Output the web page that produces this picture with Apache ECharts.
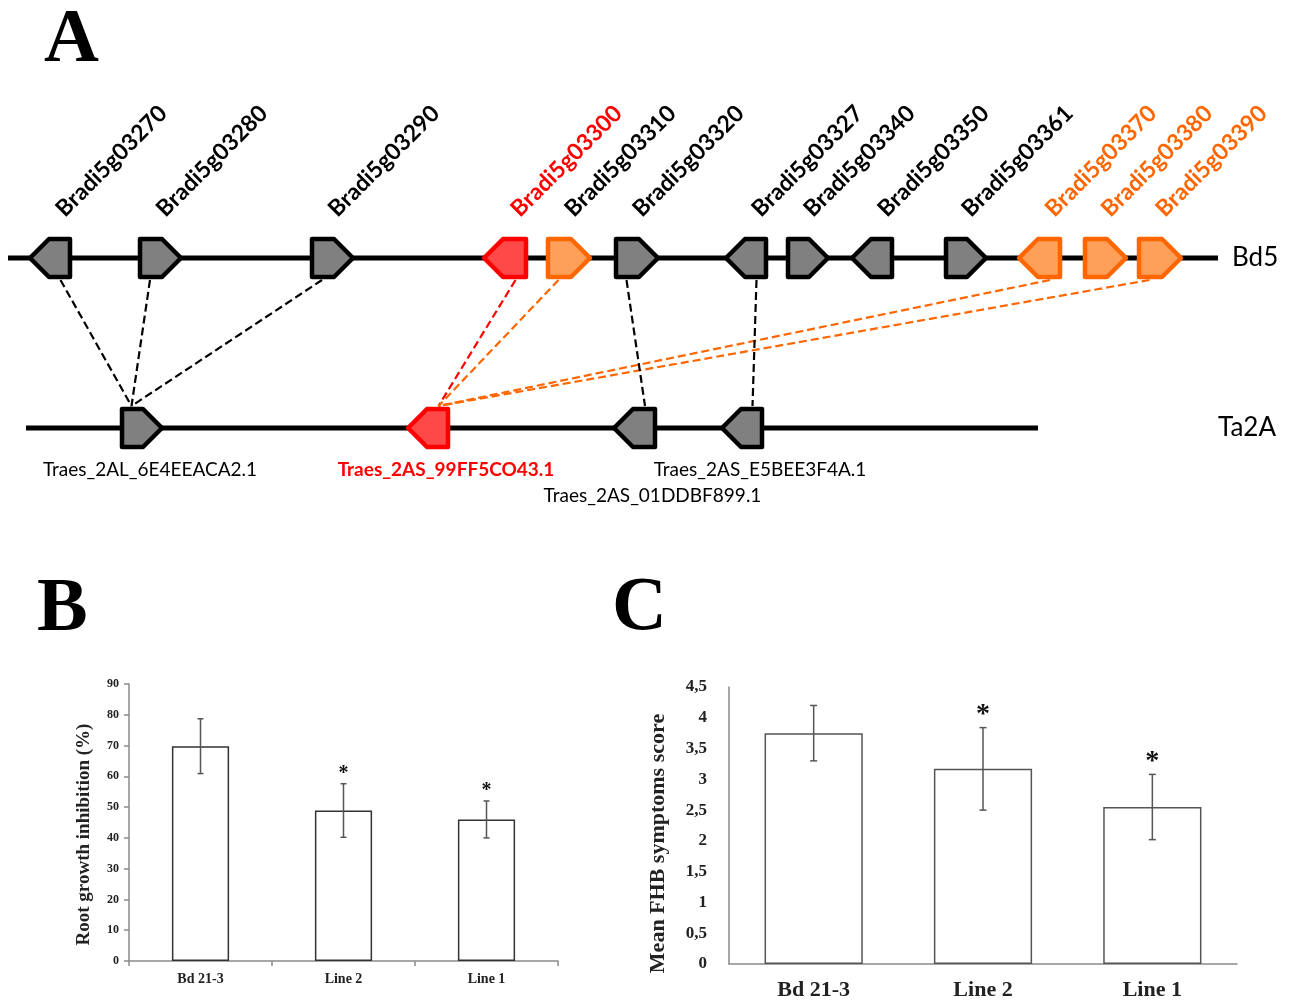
<!DOCTYPE html>
<html>
<head>
<meta charset="utf-8">
<title>Bd5 / Ta2A synteny, root growth and FHB scores</title>
<script src="https://cdn.jsdelivr.net/npm/echarts@6/dist/echarts.min.js"></script>
<style>
  html, body { margin: 0; padding: 0; background: #fff; }
  #chart { width: 1292px; height: 1003px; }
</style>
</head>
<body>
<div id="chart"></div>
<script>
// ---- panel A: gene models on the two chromosomes ----
var chromNames = ['Bd5', 'Ta2A'];
var chromStart = [8, 26];
var chromEnd = [1218, 1038];

var bdGeneNames = ['Bradi5g03270', 'Bradi5g03280', 'Bradi5g03290', 'Bradi5g03300', 'Bradi5g03310',
  'Bradi5g03320', 'Bradi5g03327', 'Bradi5g03340', 'Bradi5g03350', 'Bradi5g03361',
  'Bradi5g03370', 'Bradi5g03380', 'Bradi5g03390'];
var bdGeneStart = [28, 138, 310, 482, 546, 614, 724, 786, 850, 944, 1017, 1083, 1137];
var bdGeneEnd = [72, 183, 355, 528, 592, 660, 768, 830, 894, 988, 1062, 1128, 1183];
var bdGeneStrand = [-1, 1, 1, -1, 1, 1, -1, 1, -1, 1, -1, 1, 1];
var bdGeneGroup = ['other', 'other', 'other', 'target', 'family', 'other', 'other', 'other',
  'other', 'other', 'family', 'family', 'family'];
// colour class of the gene name (Bradi5g03310 is an orange gene with a black name)
var bdLabelGroup = ['other', 'other', 'other', 'target', 'other', 'other', 'other', 'other',
  'other', 'other', 'family', 'family', 'family'];

var taGeneNames = ['Traes_2AL_6E4EEACA2.1', 'Traes_2AS_99FF5CO43.1', 'Traes_2AS_01DDBF899.1', 'Traes_2AS_E5BEE3F4A.1'];
var taGeneStart = [120, 406, 612, 720];
var taGeneEnd = [164, 450, 657, 764];
var taGeneStrand = [1, -1, -1, -1];
var taGeneGroup = ['other', 'target', 'other', 'other'];
var taLabelRow = [0, 0, 1, 0];

// orthology links: Bd5 gene index -> Ta2A gene index
var linkFrom = [0, 1, 2, 3, 4, 10, 12, 5, 6];
var linkTo = [0, 0, 0, 1, 1, 1, 1, 2, 3];

// ---- panel B: root growth inhibition ----
var rootCats = ['Bd 21-3', 'Line 2', 'Line 1'];
var rootMean = [69.8, 48.9, 46.0];
var rootErr = [8.9, 8.7, 6.0];
var rootSig = [false, true, true];

// ---- panel C: FHB symptoms ----
var fhbCats = ['Bd 21-3', 'Line 2', 'Line 1'];
var fhbMean = [3.75, 3.17, 2.55];
var fhbErr = [0.45, 0.67, 0.53];
var fhbSig = [false, true, true];

var GENE_FILL = { other: '#808080', target: '#FF4848', family: '#FFA05A' };
var GENE_EDGE = { other: '#000000', target: '#FF0000', family: '#FF6600' };
var SANS = 'Lato, "Open Sans", sans-serif';
var SERIF = '"Liberation Serif", "Times New Roman", serif';
var HALF_H = 19;

var tracks = [
  { names: bdGeneNames, start: bdGeneStart, end: bdGeneEnd, strand: bdGeneStrand, group: bdGeneGroup, labelGroup: bdLabelGroup },
  { names: taGeneNames, start: taGeneStart, end: taGeneEnd, strand: taGeneStrand, group: taGeneGroup, labelGroup: taGeneGroup }
];

function genePoints(x0, x1, y, strand) {
  var h = HALF_H, p = HALF_H;
  if (strand > 0) {
    return [[x0, y - h], [x1 - p, y - h], [x1, y], [x1 - p, y + h], [x0, y + h]];
  }
  return [[x0 + p, y - h], [x1, y - h], [x1, y + h], [x0 + p, y + h], [x0, y]];
}

// x of the box part of a gene, where links attach
function attachX(t, i, api) {
  var a = api.coord([t.start[i], 0])[0];
  var b = api.coord([t.end[i], 0])[0];
  var box = (b - a) - HALF_H - 2;
  return t.strand[i] > 0 ? a + box / 2 : b - box / 2;
}

function renderChrom(params, api) {
  var a = api.coord([api.value(0), api.value(2)]);
  var b = api.coord([api.value(1), api.value(2)]);
  var nameX = params.dataIndex === 0 ? 1232 : 1218;
  return {
    type: 'group',
    children: [
      { type: 'line', shape: { x1: a[0], y1: a[1], x2: b[0], y2: b[1] }, style: { stroke: '#000', lineWidth: 5 } },
      { type: 'text', x: nameX, y: a[1], style: { x: 0, y: 0, text: chromNames[params.dataIndex], fill: '#000',
        font: '26px ' + SANS, textAlign: 'left', textVerticalAlign: 'middle', align: 'left', verticalAlign: 'middle' } }
    ]
  };
}

function renderGene(params, api) {
  var trackIdx = api.value(2);
  var t = tracks[trackIdx];
  var i = api.value(3);
  var a = api.coord([api.value(0), trackIdx]);
  var b = api.coord([api.value(1), trackIdx]);
  var g = t.group[i];
  var lg = t.labelGroup[i];
  var cx = (a[0] + b[0]) / 2;
  var shift = 13 - 5 * t.strand[i];
  var children = [{
    type: 'polygon',
    shape: { points: genePoints(a[0] + 2, b[0] - 2, a[1], t.strand[i]) },
    style: { fill: GENE_FILL[g], stroke: GENE_EDGE[g], lineWidth: 4.5, lineJoin: 'round' }
  }];
  if (trackIdx === 0) {
    children.push({
      type: 'text', x: cx + shift, y: a[1] - 37, rotation: Math.PI / 4,
      style: { x: 0, y: 0, text: t.names[i], fill: GENE_EDGE[lg],
        font: 'bold 23px ' + SANS, textAlign: 'left', textVerticalAlign: 'bottom', align: 'left', verticalAlign: 'bottom' }
    });
  } else {
    children.push({
      type: 'text', x: cx + shift, y: a[1] + 42 + 26 * taLabelRow[i],
      style: { x: 0, y: 0, text: t.names[i], fill: GENE_EDGE[lg],
        font: (lg === 'other' ? '' : 'bold ') + '19px ' + SANS, textAlign: 'center', textVerticalAlign: 'middle',
        align: 'center', verticalAlign: 'middle' }
    });
  }
  return { type: 'group', children: children };
}

function renderLink(params, api) {
  var i = api.value(0), j = api.value(1);
  var x1 = attachX(tracks[0], i, api), x2 = attachX(tracks[1], j, api);
  var y1 = api.coord([0, 0])[1] + HALF_H + 3;
  var y2 = api.coord([0, 1])[1] - HALF_H - 3;
  var g = bdGeneGroup[i];
  return {
    type: 'line',
    shape: { x1: x1, y1: y1, x2: x2, y2: y2 },
    style: { stroke: GENE_EDGE[g], lineWidth: 2.2, lineDash: [8, 4] }
  };
}

function errorBars(sig, cap, starGap, starFont, color) {
  return function (params, api) {
    var i = params.dataIndex;
    var x = api.value(0), m = api.value(1), e = api.value(2);
    var top = api.coord([x, m + e]);
    var bot = api.coord([x, m - e]);
    var st = { stroke: color, lineWidth: 1.5 };
    var children = [
      { type: 'line', shape: { x1: top[0], y1: top[1], x2: bot[0], y2: bot[1] }, style: st },
      { type: 'line', shape: { x1: top[0] - cap, y1: top[1], x2: top[0] + cap, y2: top[1] }, style: st },
      { type: 'line', shape: { x1: bot[0] - cap, y1: bot[1], x2: bot[0] + cap, y2: bot[1] }, style: st }
    ];
    if (sig[i]) {
      children.push({ type: 'text', x: top[0], y: top[1] - starGap,
        style: { x: 0, y: 0, text: '*', fill: '#111', font: starFont, textAlign: 'center', textVerticalAlign: 'middle',
          align: 'center', verticalAlign: 'middle' } });
    }
    return { type: 'group', children: children };
  };
}

var geneData = [];
tracks.forEach(function (t, k) {
  t.names.forEach(function (n, i) { geneData.push([t.start[i], t.end[i], k, i]); });
});

var chart = echarts.init(document.getElementById('chart'));
var option = {
  animation: false,
  backgroundColor: '#fff',
  graphic: [
    { type: 'text', x: 44, y: 41, style: { text: 'A', font: 'bold 76px ' + SERIF, fill: '#000', textVerticalAlign: 'middle', verticalAlign: 'middle' } },
    { type: 'text', x: 37, y: 610, style: { text: 'B', font: 'bold 76px ' + SERIF, fill: '#000', textVerticalAlign: 'middle', verticalAlign: 'middle' } },
    { type: 'text', x: 612, y: 609, style: { text: 'C', font: 'bold 76px ' + SERIF, fill: '#000', textVerticalAlign: 'middle', verticalAlign: 'middle' } }
  ],
  grid: [
    { left: 0, top: 258, width: 1292, height: 170 },
    { left: 129, top: 684, width: 429, height: 277 },
    { left: 729, top: 687, width: 508, height: 277 }
  ],
  xAxis: [
    { gridIndex: 0, type: 'value', min: 0, max: 1292, show: false },
    {
      gridIndex: 1, type: 'category', data: rootCats,
      axisLine: { lineStyle: { color: '#8a8a8a', width: 1.5 } },
      axisTick: { show: true, length: 5, lineStyle: { color: '#8a8a8a', width: 1.5 } },
      axisLabel: { color: '#222', fontFamily: SERIF, fontWeight: 'bold', fontSize: 14, margin: 11 }
    },
    {
      gridIndex: 2, type: 'category', data: fhbCats,
      axisLine: { lineStyle: { color: '#8a8a8a', width: 1.5 } },
      axisTick: { show: false },
      axisLabel: { color: '#222', fontFamily: SERIF, fontWeight: 'bold', fontSize: 22, margin: 15 }
    }
  ],
  yAxis: [
    { gridIndex: 0, type: 'value', min: 0, max: 1, inverse: true, show: false },
    {
      gridIndex: 1, type: 'value', min: 0, max: 90, interval: 10,
      name: 'Root growth inhibition (%)', nameLocation: 'middle', nameGap: 35,
      nameTextStyle: { color: '#222', fontFamily: SERIF, fontWeight: 'bold', fontSize: 19, padding: [0, 24, 0, 0] },
      axisLine: { show: true, lineStyle: { color: '#8a8a8a', width: 1.5 } },
      axisTick: { show: true, length: 5, lineStyle: { color: '#8a8a8a', width: 1.5 } },
      splitLine: { show: false },
      axisLabel: { color: '#222', fontFamily: SERIF, fontWeight: 'bold', fontSize: 12, margin: 10 }
    },
    {
      gridIndex: 2, type: 'value', min: 0, max: 4.5, interval: 0.5,
      name: 'Mean FHB symptoms score', nameLocation: 'middle', nameGap: 60,
      nameTextStyle: { color: '#222', fontFamily: SERIF, fontWeight: 'bold', fontSize: 22, padding: [0, 36, 0, 0] },
      axisLine: { show: true, lineStyle: { color: '#8a8a8a', width: 1.5 } },
      axisTick: { show: false },
      splitLine: { show: false },
      axisLabel: { color: '#222', fontFamily: SERIF, fontWeight: 'bold', fontSize: 17, margin: 22,
        formatter: function (v) { return String(v).replace('.', ','); } }
    }
  ],
  series: [
    {
      type: 'custom', xAxisIndex: 0, yAxisIndex: 0, clip: false, silent: true,
      data: chromNames.map(function (n, i) { return [chromStart[i], chromEnd[i], i]; }),
      renderItem: renderChrom
    },
    {
      type: 'custom', xAxisIndex: 0, yAxisIndex: 0, clip: false, silent: true,
      data: linkFrom.map(function (f, k) { return [f, linkTo[k]]; }),
      renderItem: renderLink
    },
    {
      type: 'custom', xAxisIndex: 0, yAxisIndex: 0, clip: false, silent: true,
      data: geneData,
      renderItem: renderGene
    },
    {
      type: 'bar', xAxisIndex: 1, yAxisIndex: 1, data: rootMean, barWidth: '40%', silent: true, z: 2,
      itemStyle: { color: '#fff', borderColor: '#333', borderWidth: 1.5 }
    },
    {
      type: 'custom', xAxisIndex: 1, yAxisIndex: 1, clip: false, silent: true, z: 5,
      data: rootCats.map(function (c, i) { return [i, rootMean[i], rootErr[i]]; }),
      renderItem: errorBars(rootSig, 3, 10, 'bold 20px ' + SERIF, '#555')
    },
    {
      type: 'bar', xAxisIndex: 2, yAxisIndex: 2, data: fhbMean, barWidth: '58%', silent: true, z: 2,
      itemStyle: { color: '#fff', borderColor: '#555', borderWidth: 1.5 }
    },
    {
      type: 'custom', xAxisIndex: 2, yAxisIndex: 2, clip: false, silent: true, z: 5,
      data: fhbCats.map(function (c, i) { return [i, fhbMean[i], fhbErr[i]]; }),
      renderItem: errorBars(fhbSig, 3.5, 13, 'bold 28px ' + SERIF, '#555')
    }
  ]
};
chart.setOption(option);
</script>
</body>
</html>
